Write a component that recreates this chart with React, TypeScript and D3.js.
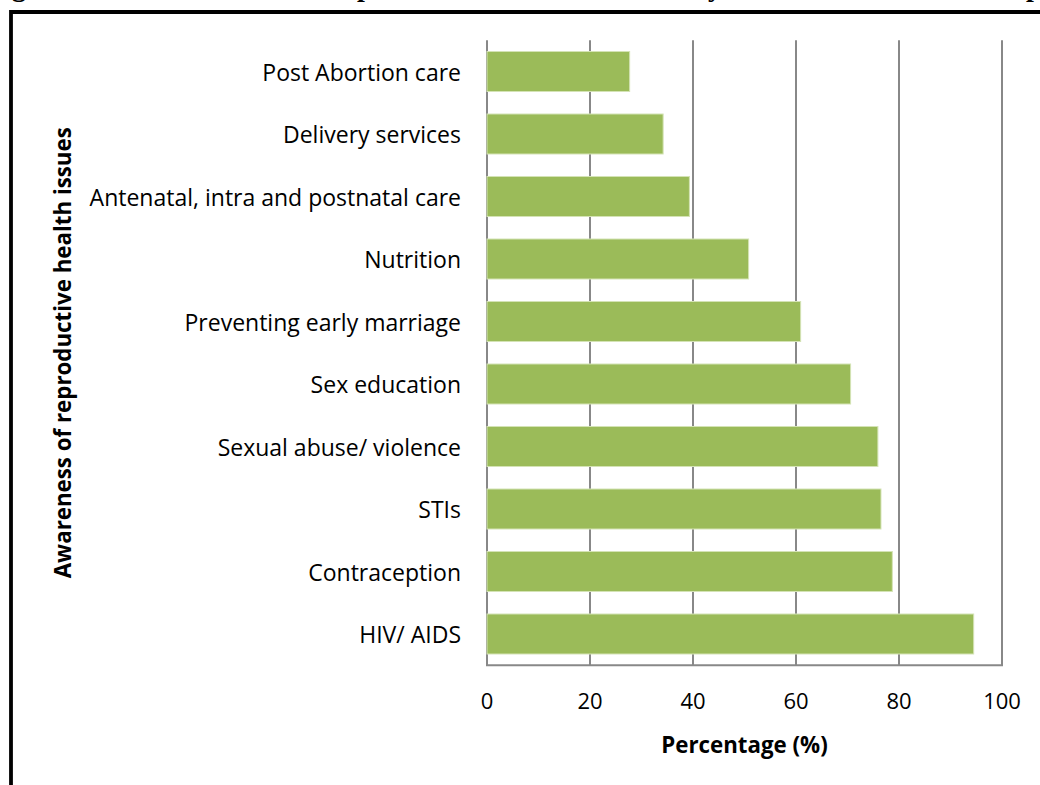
import React from "react";
import * as d3 from "d3";

const categories = [
  "Post Abortion care",
  "Delivery services",
  "Antenatal, intra and postnatal care",
  "Nutrition",
  "Preventing early marriage",
  "Sex education",
  "Sexual abuse/ violence",
  "STIs",
  "Contraception",
  "HIV/ AIDS",
];
const values = [27.7, 34.2, 39.3, 50.8, 60.9, 70.6, 75.9, 76.5, 78.7, 94.5];
const xTicks = [0, 20, 40, 60, 80, 100];
const xTitle = "Percentage (%)";
const yTitle = "Awareness of reproductive health issues";
const titleParts = [
  { text: "Figure 4.6: Awareness of re", x: -13 },
  { text: "productive health issues b", x: 357 },
  { text: "y the students in the ", x: 708 },
  { text: "population", x: 1026 },
];

const W = 1040;
const H = 785;
const FONT = "'Open Sans', Lato, sans-serif";

export default function App() {
  const x = d3.scaleLinear().domain([0, 100]).range([487, 1002]);
  const y = d3
    .scaleBand<string>()
    .domain(categories)
    .range([40.25, 665.25])
    .paddingInner(0.36)
    .paddingOuter(0.18);
  const [y0, y1] = y.range();
  const bw = y.bandwidth();

  return (
    <svg
      width={W}
      height={H}
      style={{ position: "absolute", left: 0, top: 0, background: "#fff" }}
    >
      <rect x={0} y={0} width={W} height={H} fill="#fff" />
      {/* cut-off caption */}
      <text
        y={-4.5}
        fontFamily="'Liberation Serif', 'Times New Roman', serif"
        fontWeight="bold"
        fontSize={28}
        fill="#000"
      >
        {titleParts.map((p, i) => (
          <tspan key={i} x={p.x}>
            {p.text}
          </tspan>
        ))}
      </text>
      {/* frame */}
      <path
        d={`M11,${H + 5} L11,12 L${W + 5},12`}
        fill="none"
        stroke="#000"
        strokeWidth={3.8}
      />
      {/* gridlines */}
      {xTicks.map((t) => (
        <line
          key={t}
          x1={x(t)}
          x2={x(t)}
          y1={y0}
          y2={y1}
          stroke="#888"
          strokeWidth={2}
        />
      ))}
      <line
        x1={x(0) - 1}
        x2={x(100) + 1}
        y1={y1}
        y2={y1}
        stroke="#888"
        strokeWidth={2}
      />
      {/* bars */}
      {categories.map((c, i) => (
        <rect
          key={c}
          x={x(0)}
          y={y(c)!}
          width={x(values[i]) - x(0)}
          height={bw}
          fill="#9BBB59"
          stroke="#d4e3b5"
          strokeWidth={1}
        />
      ))}
      {/* category labels */}
      {categories.map((c) => (
        <text
          key={c}
          x={461}
          y={y(c)! + bw / 2}
          textAnchor="end"
          dominantBaseline="central"
          fontFamily={FONT}
          fontSize={23}
          fill="#000"
        >
          {c}
        </text>
      ))}
      {/* tick labels */}
      {xTicks.map((t) => (
        <text
          key={t}
          x={x(t)}
          y={700}
          textAnchor="middle"
          dominantBaseline="central"
          fontFamily={FONT}
          fontSize={22}
          fill="#000"
        >
          {t}
        </text>
      ))}
      <text
        x={(x(0) + x(100)) / 2}
        y={744}
        textAnchor="middle"
        dominantBaseline="central"
        fontFamily={FONT}
        fontWeight="bold"
        fontSize={22.3}
        fill="#000"
      >
        {xTitle}
      </text>
      <text
        transform={`translate(62,${(y0 + y1) / 2}) rotate(-90)`}
        textAnchor="middle"
        dominantBaseline="central"
        fontFamily={FONT}
        fontWeight="bold"
        fontSize={22.3}
        fill="#000"
      >
        {yTitle}
      </text>
    </svg>
  );
}
